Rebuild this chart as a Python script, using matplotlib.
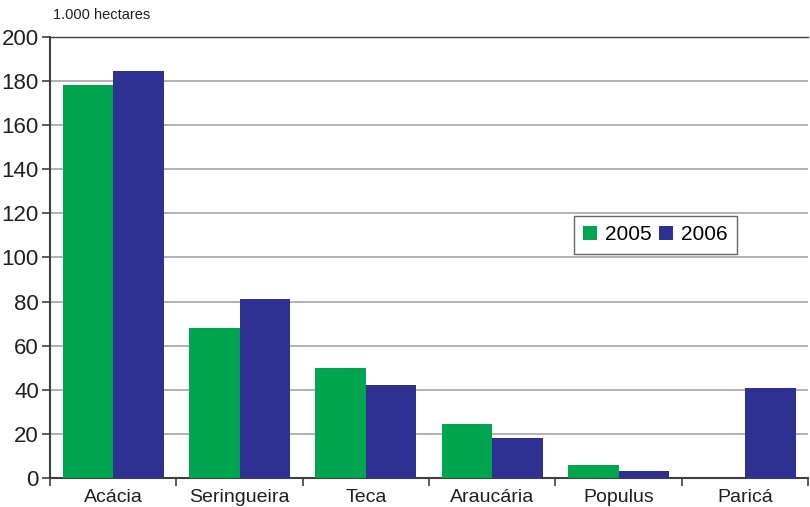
import matplotlib
matplotlib.use("Agg")
import matplotlib.pyplot as plt
import numpy as np

plt.rcParams['font.family'] = ['Liberation Sans', 'DejaVu Sans']

# data (1.000 hectares)
species = ['Acácia', 'Seringueira', 'Teca', 'Araucária', 'Populus', 'Paricá']
area_2005 = [178.2, 68.0, 49.9, 24.5, 5.9, 0]
area_2006 = [184.6, 81.2, 42.2, 18.1, 3.2, 40.8]
years = ['2005', '2006']

green = '#00a54f'
blue = '#2e3192'

fig = plt.figure(figsize=(8.10, 5.07), dpi=100)
ax = fig.add_axes([0.0617, 0.0572, 0.936, 0.870])

index = np.arange(len(species))
bar_width = 0.4

ax.bar(index - bar_width / 2, area_2005, bar_width, color=green, label=years[0], zorder=3)
ax.bar(index + bar_width / 2, area_2006, bar_width, color=blue, label=years[1], zorder=3)

ax.set_xlim(-0.5, len(species) - 0.5)
ax.set_ylim(0, 200)
ax.set_yticks(np.arange(0, 201, 20))
ax.yaxis.grid(True, color='#a6a6a6', linewidth=1.2, zorder=0)
ax.set_axisbelow(True)

# category ticks between groups, labels centered
ax.set_xticks(np.arange(len(species) + 1) - 0.5)
ax.set_xticklabels([])
ax.set_xticks(index, minor=True)
ax.set_xticklabels(species, minor=True, fontsize=14, color='#231f20')
ax.tick_params(axis='x', which='minor', length=0, pad=8)
ax.tick_params(axis='x', which='major', length=6, width=1.2, color='#404040', direction='out')
ax.tick_params(axis='y', labelsize=16, length=6, width=1.2, color='#404040', labelcolor='#231f20', pad=2)

for s in ['left', 'bottom']:
    ax.spines[s].set_color('#404040')
    ax.spines[s].set_linewidth(1.5)
ax.spines['top'].set_color('#404040')
ax.spines['top'].set_linewidth(1.0)
ax.spines['right'].set_visible(False)

fig.text(0.065, 0.970, '1.000 hectares', fontsize=10.5, color='#231f20', va='center')

leg = ax.legend(loc='upper left', bbox_to_anchor=(0.691, 0.594), ncol=2, fontsize=15,
                frameon=True, fancybox=False, edgecolor='#404040', handlelength=0.65,
                handleheight=0.65, handletextpad=0.4, columnspacing=0.35, borderpad=0.45,
                borderaxespad=0)
leg.get_frame().set_linewidth(1.0)

fig.savefig('out.png', dpi=100)
